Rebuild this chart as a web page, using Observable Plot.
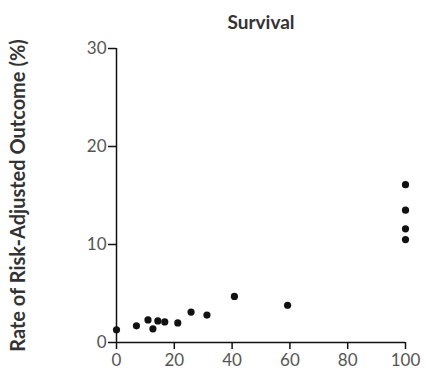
<!DOCTYPE html>
<html>
<head>
<meta charset="utf-8">
<script src="https://cdn.jsdelivr.net/npm/d3@7"></script>
<script src="https://cdn.jsdelivr.net/npm/@observablehq/plot@0.6"></script>
<style>
  html, body { margin: 0; padding: 0; background: #fff; }
  svg { display: block; }
</style>
</head>
<body>
<div id="chart"></div>
<script>
const title = "Survival";
const yLabel = "Rate of Risk-Adjusted Outcome (%)";
const xValues = [0, 6.9, 10.9, 12.6, 14.3, 16.7, 21.2, 25.8, 31.3, 40.8, 59.2, 100, 100, 100, 100];
const yValues = [1.3, 1.7, 2.3, 1.4, 2.2, 2.1, 2.0, 3.1, 2.8, 4.7, 3.8, 16.1, 13.5, 11.6, 10.5];
const xTicks = [0, 20, 40, 60, 80, 100];
const yTicks = [0, 10, 20, 30];

const data = xValues.map((x, i) => ({x, y: yValues[i]}));
const font = "Lato, 'Open Sans', sans-serif";

const plot = Plot.plot({
  width: 426,
  height: 377,
  marginLeft: 116,
  marginRight: 21,
  marginTop: 48,
  marginBottom: 35,
  style: {fontFamily: font, fontSize: "17px", color: "#555", background: "#fff"},
  x: {domain: [0, 100], label: null},
  y: {domain: [0, 30], label: null},
  marks: [
    Plot.axisX({ticks: xTicks, tickSize: 7, tickPadding: 4, stroke: "#111", strokeWidth: 1.5, fill: "#555", fontSize: 17, label: null}),
    Plot.axisY({ticks: yTicks, tickSize: 8, tickPadding: 2, stroke: "#111", strokeWidth: 1.5, fill: "#555", fontSize: 17, label: yLabel, labelAnchor: "center", labelArrow: "none", labelOffset: 106}),
    Plot.ruleY([0], {x1: 0, x2: 100, stroke: "#111", strokeWidth: 1.5}),
    Plot.ruleX([0], {y1: 0, y2: 30, stroke: "#111", strokeWidth: 1.5}),
    Plot.dot(data, {x: "x", y: "y", r: 3.6, fill: "#111", stroke: "none"}),
    Plot.text([title], {frameAnchor: "top", dy: -33, fontWeight: "bold", fontSize: 19, fill: "#333"})
  ]
});
document.getElementById("chart").appendChild(plot);
plot.querySelectorAll("[aria-label='y-axis label'] text").forEach(t => { t.setAttribute("font-weight", "bold"); t.setAttribute("font-size", "20"); t.setAttribute("fill", "#333"); });
</script>
</body>
</html>
